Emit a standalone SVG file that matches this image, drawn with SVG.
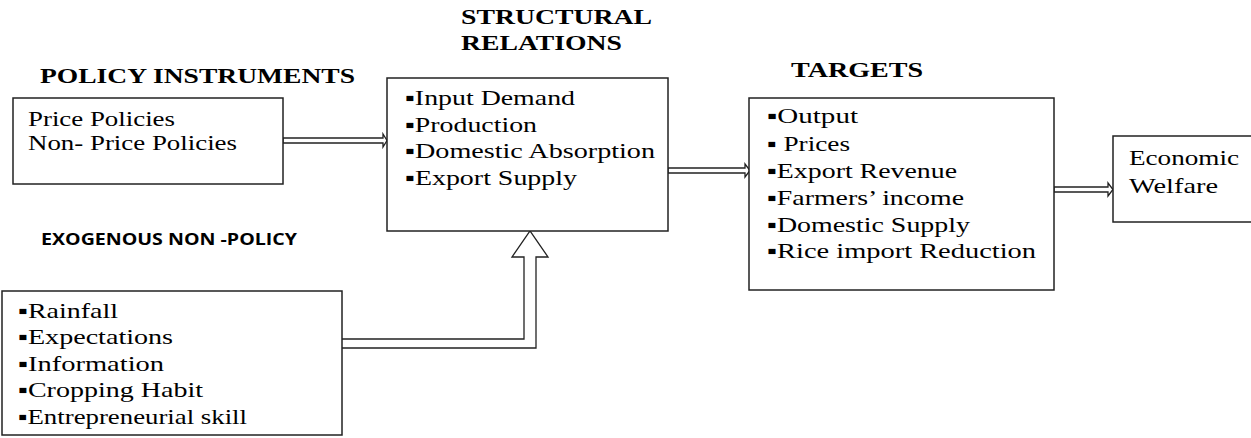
<svg xmlns="http://www.w3.org/2000/svg" width="1251" height="438" viewBox="0 0 1251 438">
<style>
.box{fill:#fff;stroke:#222;stroke-width:1.5}
.arr{fill:#fff;stroke:#222;stroke-width:1.3;stroke-linejoin:miter}
.t{font-family:"Liberation Serif","Times New Roman",serif;font-size:21px;fill:#000}
.h{font-family:"Liberation Serif","Times New Roman",serif;font-size:22px;font-weight:bold;fill:#000}
.s{font-family:"Open Sans","Liberation Sans",Arial,sans-serif;font-size:16px;font-weight:bold;fill:#000}
</style>
<rect width="1251" height="438" fill="#fff"/>
<g id="connectors">
<path class="arr" d="M283,138 H383 V134 L387,140.5 L383,147 V143 H283 Z"/>
<path class="arr" d="M668,168 H745 V164 L750,170.5 L745,177 V173 H668 Z"/>
<path class="arr" d="M1054,187 H1108 V183 L1113,189.5 L1108,196 V192 H1054 Z"/>
<path class="arr" d="M340,339 H524 V257 H512 L530,231 L548,257 H536 V348 H340 Z"/>
</g>
<g id="policy-instruments">
<text class="h" x="40" y="83" textLength="315" lengthAdjust="spacingAndGlyphs">POLICY INSTRUMENTS</text>
<rect class="box" x="13" y="98" width="270" height="86"/>
<text class="t" x="28" y="126" textLength="147" lengthAdjust="spacingAndGlyphs">Price Policies</text>
<text class="t" x="28" y="150" textLength="209" lengthAdjust="spacingAndGlyphs">Non- Price Policies</text>
</g>
<g id="structural-relations">
<text class="h" x="461" y="24" textLength="191" lengthAdjust="spacingAndGlyphs">STRUCTURAL</text>
<text class="h" x="461" y="50" textLength="161" lengthAdjust="spacingAndGlyphs">RELATIONS</text>
<rect class="box" x="387" y="78" width="281" height="153"/>
<text class="t" x="405" y="105" textLength="170" lengthAdjust="spacingAndGlyphs">▪Input Demand</text>
<text class="t" x="405" y="132" textLength="132" lengthAdjust="spacingAndGlyphs">▪Production</text>
<text class="t" x="405" y="158" textLength="250" lengthAdjust="spacingAndGlyphs">▪Domestic  Absorption</text>
<text class="t" x="405" y="185" textLength="172" lengthAdjust="spacingAndGlyphs">▪Export Supply</text>
</g>
<g id="targets">
<text class="h" x="791" y="77" textLength="132" lengthAdjust="spacingAndGlyphs">TARGETS</text>
<rect class="box" x="749" y="98" width="305" height="192"/>
<text class="t" x="767" y="123" textLength="91" lengthAdjust="spacingAndGlyphs">▪Output</text>
<text class="t" x="767" y="151" textLength="83" lengthAdjust="spacingAndGlyphs">▪ Prices</text>
<text class="t" x="767" y="178" textLength="190" lengthAdjust="spacingAndGlyphs">▪Export Revenue</text>
<text class="t" x="767" y="205" textLength="197" lengthAdjust="spacingAndGlyphs">▪Farmers’ income</text>
<text class="t" x="767" y="232" textLength="203" lengthAdjust="spacingAndGlyphs">▪Domestic Supply</text>
<text class="t" x="767" y="258" textLength="269" lengthAdjust="spacingAndGlyphs">▪Rice import  Reduction</text>
</g>
<g id="economic-welfare">
<rect class="box" x="1113" y="136" width="150" height="86"/>
<text class="t" x="1129" y="165" textLength="110" lengthAdjust="spacingAndGlyphs">Economic</text>
<text class="t" x="1129" y="193" textLength="89" lengthAdjust="spacingAndGlyphs">Welfare</text>
</g>
<g id="exogenous-non-policy">
<text class="s" x="41" y="245" textLength="256" lengthAdjust="spacingAndGlyphs">EXOGENOUS NON -POLICY</text>
<rect class="box" x="2" y="291" width="340" height="144"/>
<text class="t" x="18" y="318" textLength="100" lengthAdjust="spacingAndGlyphs">▪Rainfall</text>
<text class="t" x="18" y="344" textLength="155" lengthAdjust="spacingAndGlyphs">▪Expectations</text>
<text class="t" x="18" y="371" textLength="146" lengthAdjust="spacingAndGlyphs">▪Information</text>
<text class="t" x="18" y="397" textLength="185" lengthAdjust="spacingAndGlyphs">▪Cropping Habit</text>
<text class="t" x="18" y="424" textLength="229" lengthAdjust="spacingAndGlyphs">▪Entrepreneurial skill</text>
</g>
</svg>
